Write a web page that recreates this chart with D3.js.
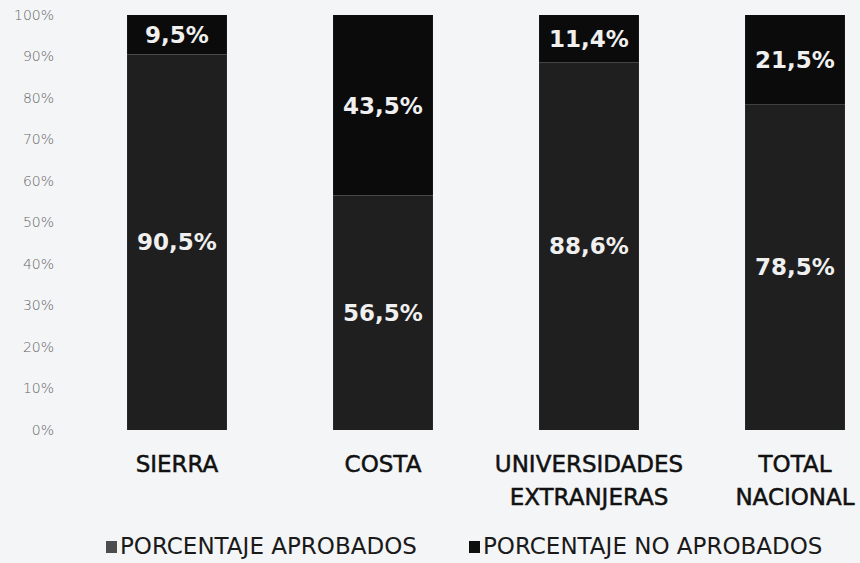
<!DOCTYPE html>
<html>
<head>
<meta charset="utf-8">
<script src="https://cdn.jsdelivr.net/npm/d3@7"></script>
<style>
  body { margin: 0; background: #f4f5f7; }
  svg { display: block; }
</style>
</head>
<body>
<svg id="chart"></svg>
<script>
const categories = [["SIERRA"], ["COSTA"], ["UNIVERSIDADES", "EXTRANJERAS"], ["TOTAL", "NACIONAL"]];
const aprobados = [90.5, 56.5, 88.6, 78.5];
const noAprobados = [9.5, 43.5, 11.4, 21.5];
const yTicks = [0, 10, 20, 30, 40, 50, 60, 70, 80, 90, 100];
const seriesNames = ["PORCENTAJE APROBADOS", "PORCENTAJE NO APROBADOS"];
const seriesColors = ["#1f1f1f", "#0b0b0b"];
const legendColors = ["#4d4d4d", "#0e0e0e"];

const width = 860, height = 563;
const font = "DejaVu Sans, sans-serif";
const svg = d3.select("#chart").attr("width", width).attr("height", height);

const keys = categories.map(c => c.join(" "));
const x = d3.scaleBand().domain(keys).range([74, 898]).paddingInner(0.515).paddingOuter(0.2575);
const y = d3.scaleLinear().domain([0, 100]).range([430, 15]);

const fmt = v => v.toFixed(1).replace(".", ",") + "%";

// eje y, solo etiquetas
const yAxis = d3.axisLeft(y).tickValues(yTicks).tickFormat(d => d + "%").tickSize(0).tickPadding(0);
const gy = svg.append("g").attr("transform", "translate(54,0)").call(yAxis);
gy.select(".domain").remove();
gy.selectAll("text").attr("font-family", font).attr("font-size", 14)
  .attr("fill", "#666").attr("font-weight", 200);

const rows = keys.map((k, i) => ({ key: k, a: aprobados[i], n: noAprobados[i] }));

// barras apiladas
rows.forEach(d => {
  const g = svg.append("g");
  const bx = x(d.key), bw = x.bandwidth(), cx = bx + bw / 2;
  g.append("rect").attr("x", bx).attr("width", bw)
    .attr("y", y(d.a)).attr("height", y(0) - y(d.a)).attr("fill", seriesColors[0]);
  g.append("rect").attr("x", bx).attr("width", bw)
    .attr("y", y(100)).attr("height", y(d.a) - y(100)).attr("fill", seriesColors[1]);
  g.append("text").attr("x", cx).attr("y", (y(0) + y(d.a)) / 2).attr("dy", "0.36em").text(fmt(d.a));
  g.append("text").attr("x", cx).attr("y", (y(d.a) + y(100)) / 2).attr("dy", "0.36em").text(fmt(d.n));
  g.selectAll("text").attr("text-anchor", "middle").attr("fill", "#f0f0f0")
    .attr("font-family", font).attr("font-weight", 700).attr("font-size", 23);
});

// etiquetas x
categories.forEach((lines, i) => {
  const t = svg.append("text").attr("text-anchor", "middle")
    .attr("font-family", font).attr("font-size", 23).attr("fill", "#111")
    .attr("stroke", "#111").attr("stroke-width", 0.5);
  lines.forEach((l, j) => {
    t.append("tspan").attr("x", x(keys[i]) + x.bandwidth() / 2).attr("y", 472 + j * 33).text(l);
  });
});

// leyenda
const legendX = [106, 469];
seriesNames.forEach((s, i) => {
  svg.append("rect").attr("x", legendX[i]).attr("y", 541).attr("width", 11).attr("height", 12)
    .attr("fill", legendColors[i]);
  svg.append("text").attr("x", legendX[i] + 14).attr("y", 554)
    .attr("font-family", font).attr("font-size", 23).attr("fill", "#1a1a1a")
    .text(s);
});
</script>
</body>
</html>
